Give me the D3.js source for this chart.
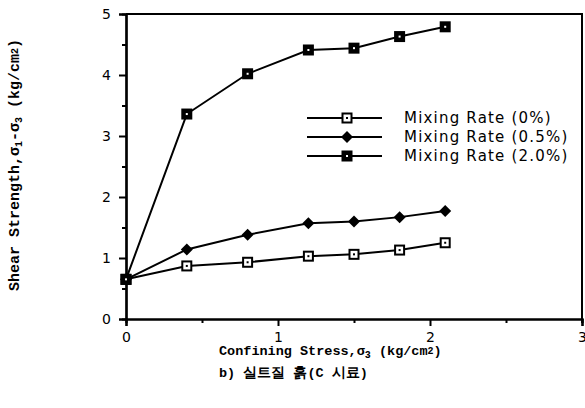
<!DOCTYPE html>
<html>
<head>
<meta charset="utf-8">
<script src="https://cdn.jsdelivr.net/npm/d3@7"></script>
<style>
  body { margin: 0; background: #fff; }
  svg { display: block; }
  .tick text { font-family: "DejaVu Sans", sans-serif; font-size: 14px; fill: #000; }
  .leg { font-family: "DejaVu Sans", sans-serif; font-size: 15px; letter-spacing: 1.2px; }
  .ttl { font-family: "Liberation Mono", monospace; font-weight: bold; fill: #000; }
</style>
</head>
<body>
<div id="chart"></div>
<script>
// confining stress (x) values
var stress = [0, 0.4, 0.8, 1.2, 1.5, 1.8, 2.1];
// shear strength for each mixing rate
var rate0 = [0.65, 0.87, 0.93, 1.03, 1.06, 1.13, 1.25];
var rate05 = [0.65, 1.14, 1.38, 1.57, 1.60, 1.67, 1.77];
var rate20 = [0.65, 3.36, 4.02, 4.41, 4.44, 4.63, 4.79];
var seriesNames = ["Mixing Rate (0%)", "Mixing Rate (0.5%)", "Mixing Rate (2.0%)"];
var xTicks = [0, 1, 2, 3];
var yTicks = [0, 1, 2, 3, 4, 5];

var width = 585, height = 408;
var margin = { left: 126, right: 3, top: 14, bottom: 89 };

var svg = d3.select("#chart").append("svg")
    .attr("width", width)
    .attr("height", height);

var x = d3.scaleLinear().domain([0, 3]).range([margin.left, width - margin.right]);
var y = d3.scaleLinear().domain([0, 5]).range([height - margin.bottom, margin.top]);

var series = [
    { name: seriesNames[0], values: rate0, marker: "open" },
    { name: seriesNames[1], values: rate05, marker: "diamond" },
    { name: seriesNames[2], values: rate20, marker: "filled" }
];

// frame (top and right)
svg.append("path")
    .attr("d", "M" + x(0) + "," + y(5) + "H" + x(3) + "V" + (y(0) + 4))
    .attr("fill", "none")
    .attr("stroke", "#000")
    .attr("stroke-width", 2);

// minor ticks first
var xMinor = d3.axisBottom(x).tickValues([0.5, 1.5, 2.5]).tickSize(4).tickFormat("");
var yMinor = d3.axisLeft(y).tickValues([0.5, 1.5, 2.5, 3.5, 4.5]).tickSize(4).tickFormat("");

var xAxis = d3.axisBottom(x).tickValues(xTicks).tickSize(7).tickPadding(6).tickFormat(d3.format("d"));
var yAxis = d3.axisLeft(y).tickValues(yTicks).tickSize(7).tickPadding(8).tickFormat(d3.format("d"));

function styleAxis(g) {
    g.select(".domain").attr("stroke-width", 2.2).attr("stroke", "#000");
    g.selectAll(".tick line").attr("stroke-width", 2).attr("stroke", "#000");
}

svg.append("g").attr("transform", "translate(0," + y(0) + ")").call(xMinor).call(styleAxis);
svg.append("g").attr("transform", "translate(" + x(0) + ",0)").call(yMinor).call(styleAxis);
svg.append("g").attr("transform", "translate(0," + y(0) + ")").call(xAxis).call(styleAxis);
svg.append("g").attr("transform", "translate(" + x(0) + ",0)").call(yAxis).call(styleAxis);

var line = d3.line()
    .x(function (d, i) { return x(stress[i]); })
    .y(function (d) { return y(d); });

function drawMarker(g, type, cx, cy) {
    if (type === "diamond") {
        g.append("path")
            .attr("d", "M" + cx + "," + (cy - 6) + "L" + (cx + 6) + "," + cy + "L" + cx + "," + (cy + 6) + "L" + (cx - 6) + "," + cy + "Z")
            .attr("fill", "#000");
    } else {
        g.append("rect")
            .attr("x", cx - 4.5).attr("y", cy - 4.5)
            .attr("width", 9).attr("height", 9)
            .attr("fill", type === "open" ? "#fff" : "#000")
            .attr("stroke", "#000").attr("stroke-width", 2);
        g.append("rect")
            .attr("x", cx - 1).attr("y", cy - 1)
            .attr("width", 2).attr("height", 2)
            .attr("fill", type === "open" ? "#000" : "#fff");
    }
}

series.forEach(function (s) {
    svg.append("path")
        .datum(s.values)
        .attr("d", line)
        .attr("fill", "none")
        .attr("stroke", "#000")
        .attr("stroke-width", 2);
});
series.forEach(function (s) {
    var g = svg.append("g");
    s.values.forEach(function (v, i) {
        drawMarker(g, s.marker, x(stress[i]), y(v));
    });
});

// legend
var legY = [118, 137, 156];
series.forEach(function (s, i) {
    var g = svg.append("g");
    g.append("line")
        .attr("x1", 307).attr("x2", 382)
        .attr("y1", legY[i]).attr("y2", legY[i])
        .attr("stroke", "#000").attr("stroke-width", 2);
    drawMarker(g, s.marker, 347, legY[i]);
    g.append("text")
        .attr("class", "leg")
        .attr("x", 404).attr("y", legY[i] + 5)
        .text(s.name);
});

// axis titles
var xt = svg.append("text")
    .attr("class", "ttl")
    .attr("x", 219).attr("y", 355)
    .style("font-size", "13.5px");
xt.append("tspan").text("Confining Stress,σ");
xt.append("tspan").attr("dy", 3).style("font-size", "10px").text("3");
xt.append("tspan").attr("dy", -3).text(" (kg/cm");
xt.append("tspan").attr("dy", -1).style("font-size", "10px").text("2");
xt.append("tspan").attr("dy", 1).text(")");

svg.append("text")
    .attr("class", "ttl")
    .attr("x", 219).attr("y", 377)
    .style("font-size", "13.5px")
    .text("b) 실트질 흙(C 시료)");

var yt = svg.append("text")
    .attr("class", "ttl")
    .attr("transform", "translate(19,165) rotate(-90)")
    .attr("text-anchor", "middle")
    .style("font-size", "15px");
yt.append("tspan").text("Shear Strength,σ");
yt.append("tspan").attr("dy", 3).style("font-size", "10px").text("1");
yt.append("tspan").attr("dy", -3).text("-σ");
yt.append("tspan").attr("dy", 3).style("font-size", "10px").text("3");
yt.append("tspan").attr("dy", -3).text("  (kg/cm");
yt.append("tspan").attr("dy", -1).style("font-size", "10px").text("2");
yt.append("tspan").attr("dy", 1).text(")");
</script>
</body>
</html>
